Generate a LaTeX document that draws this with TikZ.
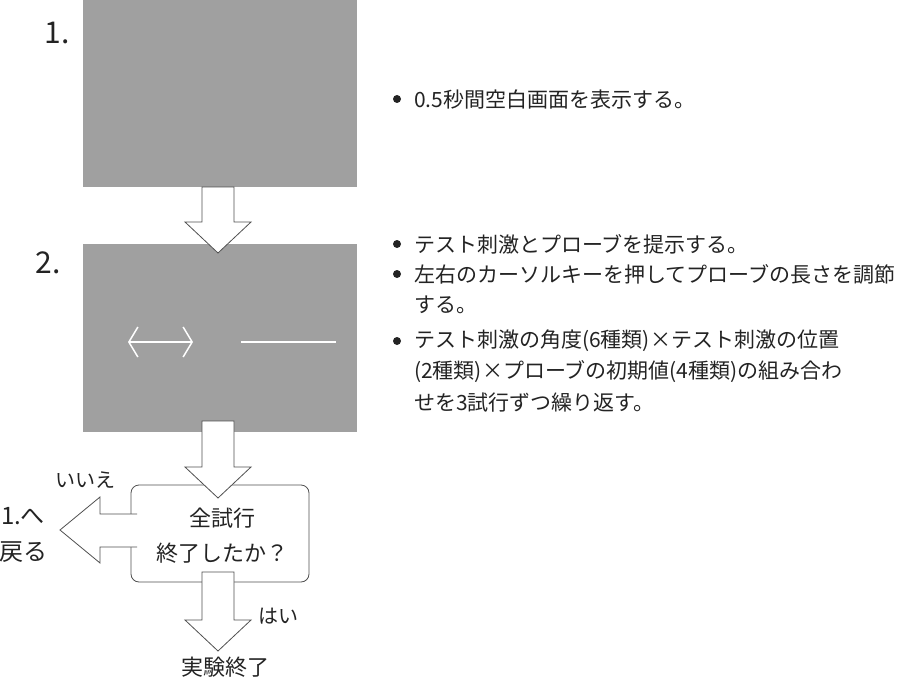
\documentclass[tikz,border=0pt]{standalone}
\usepackage{fontspec}
\setmainfont{Noto Sans CJK JP}
\definecolor{screengray}{RGB}{160,160,160}
\definecolor{linegray}{RGB}{80,80,80}
\definecolor{textgray}{RGB}{35,35,35}
\usetikzlibrary{arrows.meta}

% block arrow pointing down: top-centre x, top y, tip y
\newcommand{\downblock}[3]{%
  \draw[blockarrow] (#1-16,#2) -- (#1+16,#2) -- (#1+16,#3-31) -- (#1+33,#3-31)
    -- (#1,#3) -- (#1-33,#3-31) -- (#1-16,#3-31) -- cycle;}

\begin{document}
\begin{tikzpicture}[x=1pt,y=-1pt,font=\fontsize{21}{24}\selectfont,text=textgray]
    \tikzstyle{screen} = [fill=screengray, draw=none]
    \tikzstyle{blockarrow} = [fill=white, draw=linegray, line width=0.8pt, line join=miter]
    \tikzstyle{bullet} = [circle, fill=textgray, inner sep=0pt, minimum size=8pt]
    \tikzstyle{note} = [anchor=west, inner sep=0pt]
    \useasboundingbox (0,0) rectangle (912,682);

    % Screens
    \fill[screen] (83,0) rectangle (357,187);
    \fill[screen] (83,244) rectangle (357,432);
    \node[font=\fontsize{30}{34}\selectfont] (n1) at (57,33) {1.};
    \node[font=\fontsize{30}{34}\selectfont] (n2) at (48,263) {2.};

    % Stimulus and probe
    \draw[white, line width=1.5pt, {Straight Barb[length=9pt,width=30pt]}-{Straight Barb[length=9pt,width=30pt]}] (128,342) -- (193,342);
    \draw[white, line width=1.5pt] (241,342) -- (336,342);

    % Decision box
    \draw[draw=linegray, line width=0.8pt, rounded corners=8pt, fill=white] (131,485) rectangle (309,582);
    \node (check) at (222,536) [align=center, font=\fontsize{22}{35}\selectfont] {全試行\\終了したか？};

    % Arrows
    \downblock{218}{187}{253}
    \downblock{218}{421}{498}
    \downblock{218}{572}{651}
    \draw[blockarrow] (137,514) -- (100,514) -- (100,497) -- (60,530) -- (100,563) -- (100,547) -- (137,547);

    % Labels
    \node (no) at (85,480) [font=\fontsize{20}{22}\selectfont] {いいえ};
    \node (yes) at (278,616) [font=\fontsize{20}{22}\selectfont] {はい};
    \node (back) at (23,535) [align=center, font=\fontsize{24}{36}\selectfont] {1.へ\\戻る};
    \node (end) at (225,667) [font=\fontsize{22}{24}\selectfont] {実験終了};

    % Notes
    \node[bullet] at (397,99) {};
    \node[note] at (414,99) {0.5秒間空白画面を表示する。};
    \node[bullet] at (397,244) {};
    \node[note] at (414,244) {テスト刺激とプローブを提示する。};
    \node[bullet] at (397,274) {};
    \node[note] at (414,274) {左右のカーソルキーを押してプローブの長さを調節};
    \node[note] at (414,305) {する。};
    \node[bullet] at (397,341) {};
    \node[note] at (414,341) {テスト刺激の角度(6種類)×テスト刺激の位置};
    \node[note] at (414,372) {(2種類)×プローブの初期値(4種類)の組み合わ};
    \node[note] at (414,403) {せを3試行ずつ繰り返す。};
\end{tikzpicture}
\end{document}
